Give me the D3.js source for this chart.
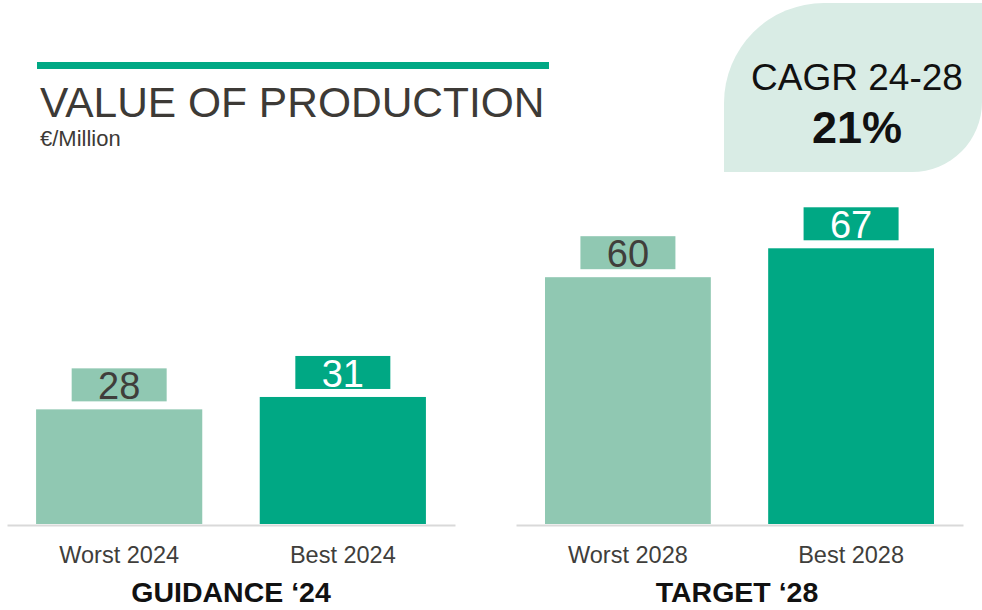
<html>
    <head>
        <script src="https://d3js.org/d3.v7.min.js"></script>
        <style>
            body { margin: 0; background: #fff; }
            svg { display: block; font-family: "Liberation Sans", Arial, sans-serif; }
            .axis .domain { stroke: #d9d9d9; stroke-width: 2px; }
            .axis .tick text { font-size: 23.5px; fill: #403e3b; }
        </style>
    </head>
    <body>
        <script>
            var groups = ["GUIDANCE \u201824", "TARGET \u201828"];
            var guidanceLabels = ["Worst 2024", "Best 2024"];
            var guidanceValues = [28, 31];
            var targetLabels = ["Worst 2028", "Best 2028"];
            var targetValues = [60, 67];
            var cagrLabel = "CAGR 24-28";
            var cagrValue = "21%";

            var width = 982, height = 610;
            var dark = "#00a884", light = "#90c8b2";
            var colors = [light, dark];

            var svg = d3.select("body").append("svg")
                .attr("width", width)
                .attr("height", height);

            // y scale shared by both panels
            var y = d3.scaleLinear()
                .domain([0, 100])
                .range([525, 112]);

            // CAGR badge, rounded top-left and bottom-right
            var bx0 = 724, by0 = 3, bx1 = 982, by1 = 172, r1 = 100, r2 = 70;
            svg.append("path")
                .attr("d", "M" + bx0 + "," + by1 +
                    "V" + (by0 + r1) +
                    "A" + r1 + "," + r1 + " 0 0 1 " + (bx0 + r1) + "," + by0 +
                    "H" + bx1 +
                    "V" + (by1 - r2) +
                    "A" + r2 + "," + r2 + " 0 0 1 " + (bx1 - r2) + "," + by1 +
                    "Z")
                .attr("fill", "#d9ece5");

            svg.append("text")
                .attr("x", 857).attr("y", 90)
                .attr("text-anchor", "middle")
                .attr("font-size", 37)
                .attr("fill", "#111")
                .text(cagrLabel);
            svg.append("text")
                .attr("x", 857).attr("y", 143)
                .attr("text-anchor", "middle")
                .attr("font-size", 45)
                .attr("font-weight", "bold")
                .attr("fill", "#111")
                .text(cagrValue);

            // title
            svg.append("rect")
                .attr("x", 37).attr("y", 62)
                .attr("width", 512).attr("height", 7)
                .attr("fill", dark);
            svg.append("text")
                .attr("x", 40).attr("y", 117)
                .attr("font-size", 42.5)
                .attr("fill", "#3d3a36")
                .text("VALUE OF PRODUCTION");
            svg.append("text")
                .attr("x", 40).attr("y", 146)
                .attr("font-size", 22)
                .attr("fill", "#3d3a36")
                .text("\u20ac/Million");

            var panels = [
                {name: groups[0], labels: guidanceLabels, values: guidanceValues, range: [7, 455], cx: 231},
                {name: groups[1], labels: targetLabels, values: targetValues, range: [516, 963], cx: 737}
            ];

            panels.forEach(function(p) {
                var x = d3.scaleBand()
                    .domain(p.labels)
                    .range(p.range)
                    .paddingInner(0.257)
                    .paddingOuter(0.13);

                var data = p.labels.map(function(l, i) { return {label: l, value: p.values[i], i: i}; });

                // axis with category labels
                svg.append("g").attr("class", "axis")
                    .attr("transform", "translate(0,525)")
                    .call(d3.axisBottom(x).tickSize(0).tickSizeOuter(0).tickPadding(21))
                    .attr("font-family", null);

                svg.selectAll(null)
                    .data(data)
                    .enter().append("rect")
                    .attr("x", function(d) { return x(d.label); })
                    .attr("y", function(d) { return y(d.value); })
                    .attr("width", x.bandwidth())
                    .attr("height", function(d) { return y(0) - y(d.value) - 1; })
                    .attr("fill", function(d) { return colors[d.i]; });

                // value label boxes
                var bw = 95, bh = 33;
                svg.selectAll(null)
                    .data(data)
                    .enter().append("rect")
                    .attr("x", function(d) { return x(d.label) + x.bandwidth() / 2 - bw / 2; })
                    .attr("y", function(d) { return y(d.value) - 8 - bh; })
                    .attr("width", bw)
                    .attr("height", bh)
                    .attr("fill", function(d) { return colors[d.i]; });

                svg.selectAll(null)
                    .data(data)
                    .enter().append("text")
                    .attr("x", function(d) { return x(d.label) + x.bandwidth() / 2; })
                    .attr("y", function(d) { return y(d.value) - 10; })
                    .attr("text-anchor", "middle")
                    .attr("font-size", 38)
                    .attr("fill", function(d) { return d.i ? "#fff" : "#403e3b"; })
                    .text(function(d) { return d.value; });

                svg.append("text")
                    .attr("x", p.cx)
                    .attr("y", 602)
                    .attr("text-anchor", "middle")
                    .attr("font-size", 28.5)
                    .attr("font-weight", "bold")
                    .attr("fill", "#111")
                    .text(p.name);
            });
        </script>
    </body>
</html>
